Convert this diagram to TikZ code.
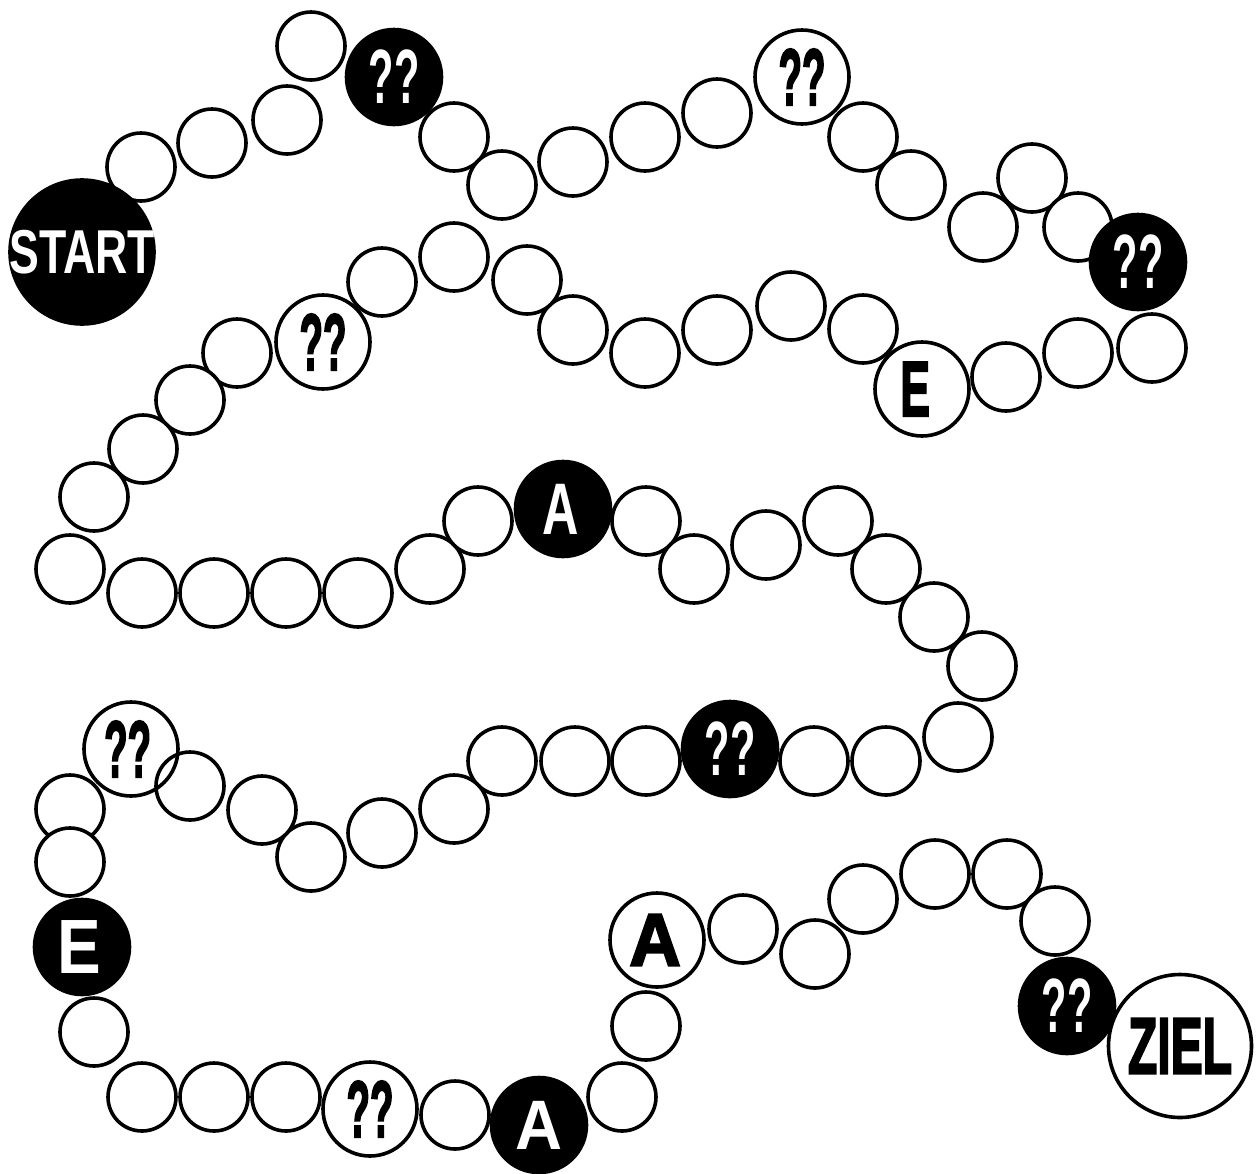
\documentclass[tikz,border=0pt]{standalone}
\usepackage{fontspec}
\usepackage{graphicx}
\newfontfamily\lightfont{Liberation Sans}
\newfontfamily\heavyfont{Liberation Sans}[BoldFeatures={FakeBold=3}]
\newcommand\wtxt[3]{\makebox[0pt]{\scalebox{#1}[1]{\lightfont\bfseries\fontsize{#2}{#2}\selectfont #3}}}
\newcommand\btxt[3]{\makebox[0pt]{\scalebox{#1}[1]{\heavyfont\bfseries\fontsize{#2}{#2}\selectfont #3}}}
\tikzset{
  sp/.style={circle, draw=black, line width=3.6pt, fill=white, minimum size=68pt, inner sep=0pt},
  bigw/.style={sp, minimum size=94pt},
  bigb/.style={sp, fill=black, minimum size=95pt, text=white},
}
\begin{document}
\begin{tikzpicture}[x=1pt,y=-1pt]
\useasboundingbox (0,0) rectangle (1258,1173);
% row 1
\node[sp] (c1) at (141,167) {};
\node[sp] (c2) at (212,143) {};
\node[sp] (c3) at (311,46) {};
\node[sp] (c4) at (287,120) {};
\node[bigb, minimum size=144pt] (start) at (82,252) {\wtxt{0.72}{62pt}{START}};
\node[bigb] (q1) at (394,77) {\wtxt{0.54}{77pt}{??}};
\node[sp] (c5) at (454,137) {};
\node[sp] (c6) at (502,185) {};
\node[sp] (c7) at (573,162) {};
\node[sp] (c8) at (645,137) {};
\node[sp] (c9) at (717,113) {};
\node[bigw] (q2) at (802,77) {\btxt{0.48}{80pt}{??}};
\node[sp] (c10) at (863,137) {};
\node[sp] (c11) at (911,185) {};
\node[sp] (c13) at (1032,178) {};
\node[sp] (c12) at (983,227) {};
\node[sp] (c14) at (1078,227) {};
\node[bigb] (q3) at (1138,262) {\wtxt{0.54}{77pt}{??}};
% row 2 (leftwards)
\node[sp] (d1) at (1152,348) {};
\node[sp] (d2) at (1078,353) {};
\node[sp] (d3) at (1006,377) {};
\node[bigw] (e1) at (922,389) {\btxt{0.57}{78pt}{\kern-24pt\raisebox{-6pt}{E}}};
\node[sp] (d4) at (863,329) {};
\node[sp] (d5) at (791,306) {};
\node[sp] (d6) at (717,330) {};
\node[sp] (d7) at (645,353) {};
\node[sp] (d8) at (573,330) {};
\node[sp] (d9) at (527,280) {};
\node[sp] (d10) at (454,257) {};
\node[sp] (d11) at (382,282) {};
\node[bigw] (q4) at (323,342) {\btxt{0.48}{80pt}{??}};
\node[sp] (d12) at (237,353) {};
\node[sp] (d13) at (190,400) {};
\node[sp] (d14) at (143,449) {};
\node[sp] (d15) at (94,497) {};
\node[sp] (d16) at (70,569) {};
% row 3 (rightwards)
\node[sp] (f1) at (142,593) {};
\node[sp] (f2) at (214,593) {};
\node[sp] (f3) at (286,593) {};
\node[sp] (f4) at (358,593) {};
\node[sp] (f5) at (430,569) {};
\node[sp] (f6) at (478,521) {};
\node[bigb] (a1) at (563,509) {\wtxt{0.69}{73pt}{\kern-8pt A}};
\node[sp] (f7) at (646,521) {};
\node[sp] (f8) at (694,569) {};
\node[sp] (f9) at (766,545) {};
\node[sp] (f10) at (838,521) {};
\node[sp] (f11) at (886,569) {};
\node[sp] (f12) at (934,617) {};
\node[sp] (f13) at (982,666) {};
\node[sp] (f14) at (958,737) {};
% row 4 (leftwards)
\node[sp] (g1) at (886,761) {};
\node[sp] (g2) at (814,761) {};
\node[bigb] (q5) at (730,749) {\wtxt{0.54}{77pt}{??}};
\node[sp] (g3) at (646,761) {};
\node[sp] (g4) at (575,761) {};
\node[sp] (g5) at (502,761) {};
\node[sp] (g6) at (454,809) {};
\node[sp] (g7) at (382,833) {};
\node[sp] (g8) at (311,857) {};
\node[sp] (g9) at (262,810) {};
\node[sp] (g10) at (190,786) {};
\node[sp] (g11) at (70,809) {};
\node[bigw, fill=none] (q6) at (131,749) {\btxt{0.48}{80pt}{\kern-14pt??}};
\node[sp] (g12) at (70,862) {};
\node[bigb] (e2) at (82,947) {\wtxt{0.85}{77pt}{\kern-6pt E}};
% row 5 (rightwards)
\node[sp] (h1) at (94,1032) {};
\node[sp] (h2) at (142,1097) {};
\node[sp] (h3) at (214,1097) {};
\node[sp] (h4) at (286,1097) {};
\node[bigw] (q7) at (370,1109) {\btxt{0.48}{80pt}{??}};
\node[sp] (h5) at (455,1115) {};
\node[bigb] (a2) at (539,1125) {\wtxt{0.93}{70pt}{A}};
\node[sp] (h6) at (622,1097) {};
\node[sp] (h7) at (646,1026) {};
\node[bigw] (a3) at (657,940) {\btxt{0.96}{74pt}{\kern-4pt A}};
\node[sp] (h8) at (743,929) {};
\node[sp] (h9) at (815,954) {};
\node[sp] (h10) at (863,899) {};
\node[sp] (h11) at (935,874) {};
\node[sp] (h12) at (1007,874) {};
\node[sp] (h13) at (1055,921) {};
\node[bigb] (q8) at (1067,1006) {\wtxt{0.54}{77pt}{??}};
\node[bigw, minimum size=143pt] (ziel) at (1180,1046) {\btxt{0.6}{80pt}{ZIEL}};
\end{tikzpicture}
\end{document}
